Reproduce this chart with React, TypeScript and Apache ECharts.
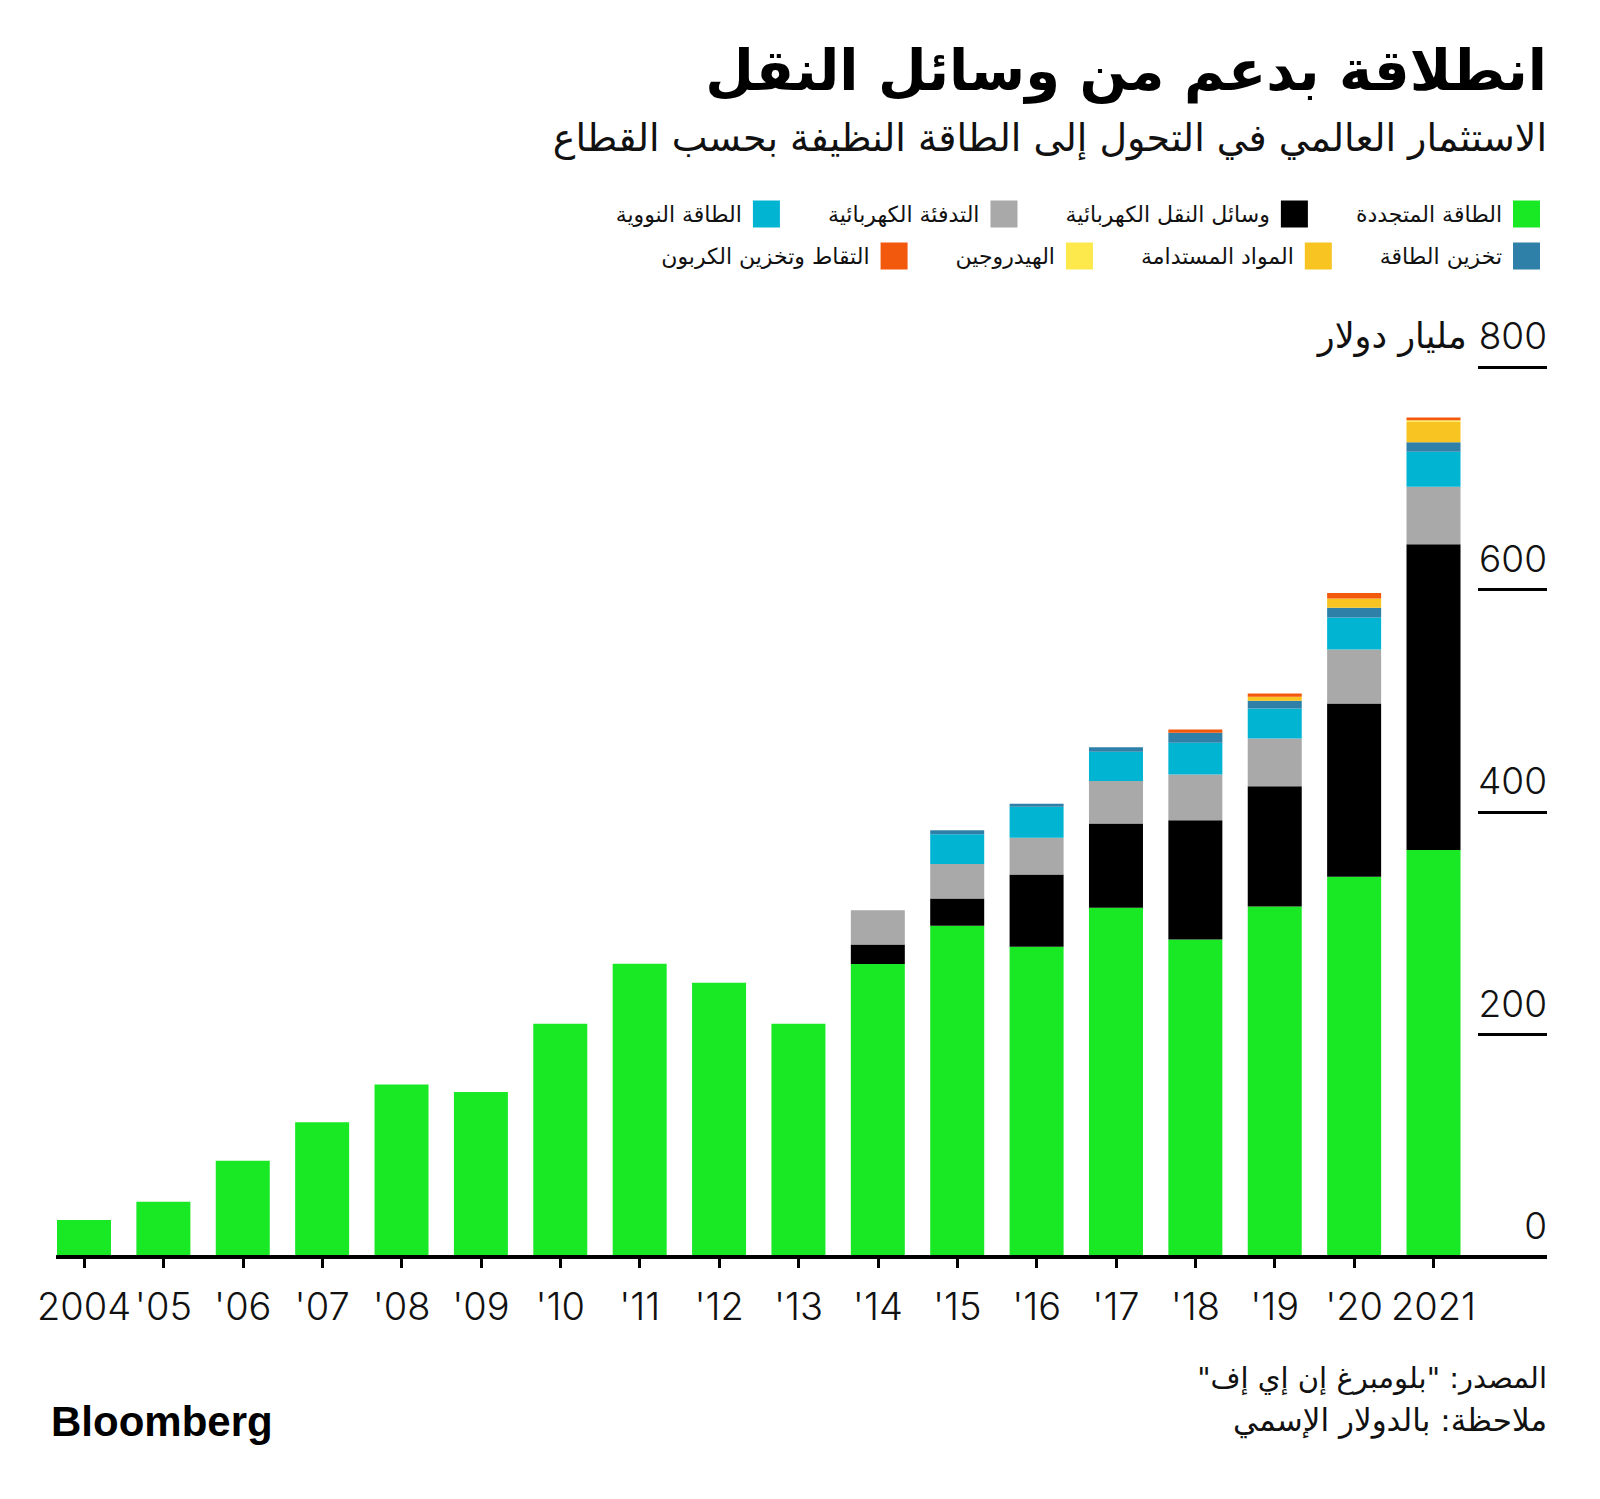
import React, { useEffect, useRef } from "react";
import * as echarts from "echarts";

const years = ["2004", "'05", "'06", "'07", "'08", "'09", "'10", "'11", "'12", "'13", "'14", "'15", "'16", "'17", "'18", "'19", "'20", "2021"];

const renewable = [33.3, 49.7, 86.6, 121.1, 155.2, 148.3, 209.7, 263.7, 246.6, 209.7, 263.4, 297.8, 278.9, 314.0, 285.6, 315.2, 341.9, 366.0];
const electrifiedTransport = [0, 0, 0, 0, 0, 0, 0, 0, 0, 0, 17.7, 24.6, 65.1, 75.9, 107.2, 108.2, 155.9, 274.8];
const electrifiedHeat = [0, 0, 0, 0, 0, 0, 0, 0, 0, 0, 30.8, 30.9, 32.9, 38.0, 41.1, 42.9, 48.5, 51.8];
const nuclear = [0, 0, 0, 0, 0, 0, 0, 0, 0, 0, 0, 26.9, 27.9, 26.3, 28.4, 27.0, 28.8, 31.5];
const storage = [0, 0, 0, 0, 0, 0, 0, 0, 0, 0, 0, 3.6, 2.7, 4.2, 9.0, 6.9, 8.6, 8.4];
const materials = [0, 0, 0, 0, 0, 0, 0, 0, 0, 0, 0, 0, 0, 0, 0, 3.6, 8.4, 18.5];
const hydrogen = [0, 0, 0, 0, 0, 0, 0, 0, 0, 0, 0, 0, 0, 0, 0, 0, 0, 1.5];
const ccs = [0, 0, 0, 0, 0, 0, 0, 0, 0, 0, 0, 0, 0, 0, 3.1, 3.0, 5.0, 2.4];

const seriesNames = [
  "الطاقة المتجددة",
  "وسائل النقل الكهربائية",
  "التدفئة الكهربائية",
  "الطاقة النووية",
  "تخزين الطاقة",
  "المواد المستدامة",
  "الهيدروجين",
  "التقاط وتخزين الكربون",
];
const seriesColors = ["#19e825", "#000000", "#a9a9a9", "#00b4d2", "#2e80a8", "#f7c421", "#fde94b", "#f3590d"];
const seriesData = [renewable, electrifiedTransport, electrifiedHeat, nuclear, storage, materials, hydrogen, ccs];

const yTicks = [0, 200, 400, 600, 800];
const unitLabel = "مليار دولار";

const titleText = "انطلاقة بدعم من وسائل النقل";
const subtitleText = "الاستثمار العالمي في التحول إلى الطاقة النظيفة بحسب القطاع";
const sourceText = "المصدر: \"بلومبرغ إن إي إف\"\u200F";
const noteText = "ملاحظة: بالدولار الإسمي";

const arabicFont = "'DejaVu Sans', sans-serif";
const numFont = "Inter, 'Liberation Sans', sans-serif";

export default function App() {
  const ref = useRef<HTMLDivElement>(null);

  useEffect(() => {
    document.body.style.margin = "0";
    if (!ref.current) return;
    const chart = echarts.init(ref.current, null, { renderer: "svg" });

    const legendCommon = {
      right: 55,
      orient: "horizontal" as const,
      align: "right" as const,
      itemGap: 48,
      itemWidth: 27,
      itemHeight: 27,
      icon: "rect",
      selectedMode: false,
      textStyle: { fontSize: 22, fontFamily: arabicFont, color: "#111", padding: [0, 6, 0, 0] },
    };

    const option: any = {
      animation: false,
      backgroundColor: "#ffffff",
      grid: { left: 44.3, right: 126.8, top: 367.3, bottom: 242, containLabel: false },
      legend: [
        { ...legendCommon, top: 195.5, data: [seriesNames[3], seriesNames[2], seriesNames[1], seriesNames[0]] },
        { ...legendCommon, top: 237.5, data: [seriesNames[7], seriesNames[6], seriesNames[5], seriesNames[4]] },
      ],
      xAxis: {
        type: "category",
        data: years,
        axisLine: { show: false },
        axisTick: { show: true, alignWithLabel: true, length: 11, lineStyle: { color: "#000", width: 3 } },
        axisLabel: { fontSize: 38, fontFamily: numFont, fontWeight: 300, color: "#111", margin: 30, interval: 0 },
      },
      yAxis: {
        type: "value",
        position: "right",
        offset: 73.8,
        min: 0,
        max: 800,
        interval: 200,
        splitLine: { show: false },
        axisLine: { show: false },
        axisTick: { show: true, inside: true, length: 69, lineStyle: { color: "#000", width: 3 } },
        axisLabel: {
          inside: true,
          margin: 0,
          align: "right",
          verticalAlign: "bottom",
          padding: [0, 0, 13, 0],
          formatter: (v: number) =>
            v === yTicks[yTicks.length - 1] ? `{u|${unitLabel}}{n|${v}}` : `{n|${v}}`,
          rich: {
            u: { fontSize: 35, fontFamily: arabicFont, color: "#111", padding: [0, 12, 0, 0] },
            n: { fontSize: 37, fontFamily: numFont, fontWeight: 300, color: "#111" },
          },
        },
      },
      series: seriesNames.map((name, i) => ({
        name,
        type: "bar",
        stack: "total",
        barWidth: 54,
        data: seriesData[i],
        itemStyle: { color: seriesColors[i] },
        emphasis: { disabled: true },
      })),
      graphic: [
        {
          type: "text",
          x: 1547,
          y: 70,
          style: {
            text: titleText,
            fontSize: 56,
            fontWeight: "bold",
            fontFamily: arabicFont,
            fill: "#000",
            align: "right",
            verticalAlign: "middle",
          },
        },
        {
          type: "text",
          x: 1547,
          y: 138,
          style: {
            text: subtitleText,
            fontSize: 38,
            fontFamily: arabicFont,
            fill: "#111",
            align: "right",
            verticalAlign: "middle",
          },
        },
        {
          type: "text",
          x: 1547,
          y: 1378,
          style: {
            text: sourceText,
            fontSize: 29,
            fontFamily: arabicFont,
            fill: "#111",
            align: "right",
            verticalAlign: "middle",
          },
        },
        {
          type: "text",
          x: 1547,
          y: 1420,
          style: {
            text: noteText,
            fontSize: 31,
            fontFamily: arabicFont,
            fill: "#111",
            align: "right",
            verticalAlign: "middle",
          },
        },
        {
          type: "text",
          x: 51,
          y: 1421,
          style: {
            text: "Bloomberg",
            fontSize: 42,
            fontWeight: "bold",
            fontFamily: "'Liberation Sans', Arial, sans-serif",
            fill: "#000",
            align: "left",
            verticalAlign: "middle",
          },
        },
        {
          type: "line",
          z: 100,
          shape: { x1: 56, y1: 1257, x2: 1547, y2: 1257 },
          style: { stroke: "#000", lineWidth: 4 },
        },
      ],
    };

    chart.setOption(option);
    return () => chart.dispose();
  }, []);

  return <div ref={ref} style={{ width: 1600, height: 1499 }} />;
}
